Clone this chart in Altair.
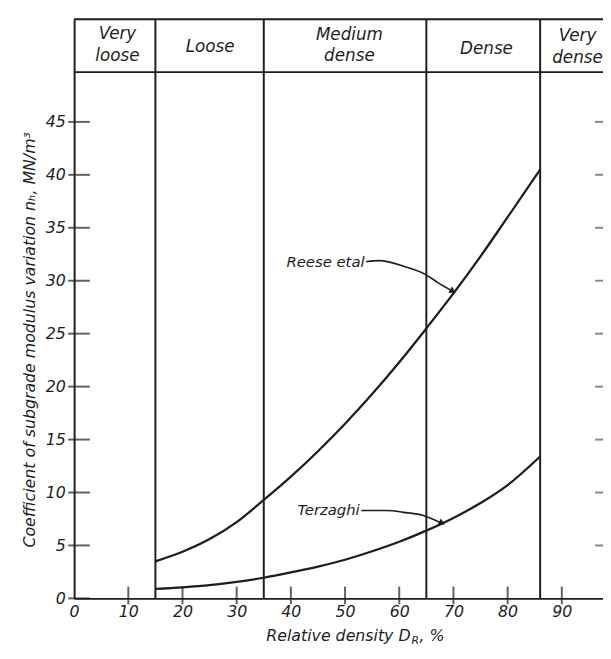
import altair as alt
import pandas as pd

# ---- data ----
density = [15, 20, 25, 30, 35, 40, 45, 50, 55, 60, 65, 70, 75, 80, 86]
reese = [3.5, 4.4, 5.6, 7.2, 9.3, 11.5, 13.9, 16.5, 19.3, 22.3, 25.5, 28.8, 32.3, 36.0, 40.5]
terzaghi = [0.9, 1.05, 1.25, 1.55, 1.95, 2.45, 3.0, 3.65, 4.45, 5.35, 6.4, 7.6, 9.0, 10.7, 13.4]

x_ticks = [10, 20, 30, 40, 50, 60, 70, 80, 90]
x_labels = [0, 10, 20, 30, 40, 50, 60, 70, 80, 90]
y_ticks = [0, 5, 10, 15, 20, 25, 30, 35, 40, 45]
right_ticks = [5, 10, 15, 20, 25, 30, 35, 40, 45]
boundaries = [15, 35, 65, 86]

header_text = ["Very", "loose", "Loose", "Medium", "dense", "Dense", "Very", "dense"]
header_x = [8.0, 8.0, 25.1, 50.8, 50.8, 76.1, 92.9, 92.9]
header_y = [53.3, 51.2, 52.1, 53.2, 51.2, 51.9, 53.1, 51.0]

XMAX = 97.6
YMAX = 54.7
HEADER_BOTTOM = 49.7

# annotation leader paths
reese_arrow_x = [53.9, 56.3, 61.2, 64.8, 67.2, 69.9]
reese_arrow_y = [31.8, 31.9, 31.3, 30.6, 29.8, 29.0]
terz_arrow_x = [53.0, 57.6, 61.2, 64.3, 66.1, 67.9]
terz_arrow_y = [8.3, 8.3, 8.1, 7.85, 7.5, 7.1]

INK = "#1e1e1e"
FONT = "DejaVu Sans"

xs = alt.Scale(domain=[0, XMAX], nice=False, zero=False)
ys = alt.Scale(domain=[0, YMAX], nice=False, zero=False)

x_axis = alt.Axis(values=x_labels, ticks=False, tickSize=0, grid=False, title=None,
                  domainColor=INK, domainWidth=2, labelPadding=5,
                  labelFont=FONT, labelFontStyle="italic", labelFontSize=16,
                  labelColor=INK, labelFlush=False)
y_axis = alt.Axis(values=y_ticks, ticks=False, tickSize=0, grid=False, title=None,
                  domainColor=INK, domainWidth=2, labelPadding=9,
                  labelFont=FONT, labelFontStyle="italic", labelFontSize=16,
                  labelColor=INK, labelFlush=False)


def X(field="x"):
    return alt.X(f"{field}:Q", scale=xs, axis=x_axis, title=None)


def Y(field="y"):
    return alt.Y(f"{field}:Q", scale=ys, axis=y_axis, title=None)


curves = pd.DataFrame({
    "x": density * 2,
    "y": reese + terzaghi,
    "s": ["Reese etal"] * len(density) + ["Terzaghi"] * len(density),
})

lines = alt.Chart(curves).mark_line(color=INK, strokeWidth=2.3, interpolate="monotone").encode(
    x=X(), y=Y(), detail="s:N",
)

vrules = alt.Chart(pd.DataFrame({"x": boundaries, "y": [0] * 4, "y2": [YMAX] * 4})).mark_rule(
    color=INK, strokeWidth=2
).encode(x=X(), y=Y(), y2="y2:Q")

hrules = alt.Chart(pd.DataFrame({"y": [HEADER_BOTTOM, YMAX], "x": [0, 0], "x2": [XMAX, XMAX]})).mark_rule(
    color=INK, strokeWidth=2
).encode(y=Y(), x=X(), x2="x2:Q")

header = alt.Chart(pd.DataFrame({"x": header_x, "y": header_y, "t": header_text})).mark_text(
    font=FONT, fontStyle="italic", fontSize=17, color=INK, baseline="middle", align="center"
).encode(x=X(), y=Y(), text="t:N")

yt = alt.Chart(pd.DataFrame({"y": y_ticks, "x": [0] * len(y_ticks)})).mark_tick(
    orient="horizontal", size=22, thickness=2, xOffset=5, color=INK
).encode(x=X(), y=Y())

xt = alt.Chart(pd.DataFrame({"x": x_ticks, "y": [0] * len(x_ticks)})).mark_tick(
    orient="vertical", size=18, thickness=2, yOffset=-3, color=INK
).encode(x=X(), y=Y())

rt = alt.Chart(pd.DataFrame({"y": right_ticks, "x": [XMAX] * len(right_ticks)})).mark_tick(
    orient="horizontal", size=16, thickness=2, color="#555555"
).encode(x=X(), y=Y())

arrows = pd.DataFrame({
    "x": reese_arrow_x + terz_arrow_x,
    "y": reese_arrow_y + terz_arrow_y,
    "g": ["r"] * len(reese_arrow_x) + ["t"] * len(terz_arrow_x),
})
leaders = alt.Chart(arrows).mark_line(color=INK, strokeWidth=1.6, interpolate="monotone").encode(
    x=X(), y=Y(), detail="g:N",
)

heads = alt.Chart(pd.DataFrame({
    "x": [reese_arrow_x[-1], terz_arrow_x[-1]],
    "y": [reese_arrow_y[-1], terz_arrow_y[-1]],
    "a": [32, 26],
})).mark_point(shape="triangle-right", filled=True, size=55, color=INK, opacity=1).encode(
    x=X(), y=Y(), angle=alt.Angle("a:Q", scale=None),
)

labels = alt.Chart(pd.DataFrame({
    "x": [reese_arrow_x[0] - 0.3, terz_arrow_x[0] - 0.3],
    "y": [reese_arrow_y[0], terz_arrow_y[0]],
    "t": ["Reese etal", "Terzaghi"],
})).mark_text(font=FONT, fontStyle="italic", fontSize=15, color=INK, align="right", baseline="middle").encode(
    x=X(), y=Y(), text="t:N",
)

# axis titles as text (to allow subscripts)
ytitle = alt.Chart(pd.DataFrame({"t": ["Coefficient of subgrade modulus variation n\u2095, MN/m\u00b3"]})).mark_text(
    font=FONT, fontStyle="italic", fontSize=16, color=INK, angle=270, align="center", baseline="middle"
).encode(x=alt.value(-45), y=alt.value(325), text="t:N")

xtitle_main = alt.Chart(pd.DataFrame({"t": ["Relative density D"]})).mark_text(
    font=FONT, fontStyle="italic", fontSize=16, color=INK, align="right", baseline="middle"
).encode(x=alt.value(341), y=alt.value(625), text="t:N")

xtitle_sub = alt.Chart(pd.DataFrame({"t": ["R"]})).mark_text(
    font=FONT, fontStyle="italic", fontSize=11, color=INK, align="left", baseline="middle"
).encode(x=alt.value(342), y=alt.value(630), text="t:N")

xtitle_end = alt.Chart(pd.DataFrame({"t": [", %"]})).mark_text(
    font=FONT, fontStyle="italic", fontSize=16, color=INK, align="left", baseline="middle"
).encode(x=alt.value(350), y=alt.value(625), text="t:N")

chart = alt.layer(
    vrules, hrules, header, lines, yt, xt, rt, leaders, heads, labels,
    ytitle, xtitle_main, xtitle_sub, xtitle_end,
).properties(
    width=536, height=587,
    padding={"left": 67, "top": 7, "right": 0, "bottom": 50},
    autosize=alt.AutoSizeParams(type="none"),
    background="white",
).configure_view(stroke=None)

chart.save("out.html", embed_options={"renderer": "svg", "actions": False})
